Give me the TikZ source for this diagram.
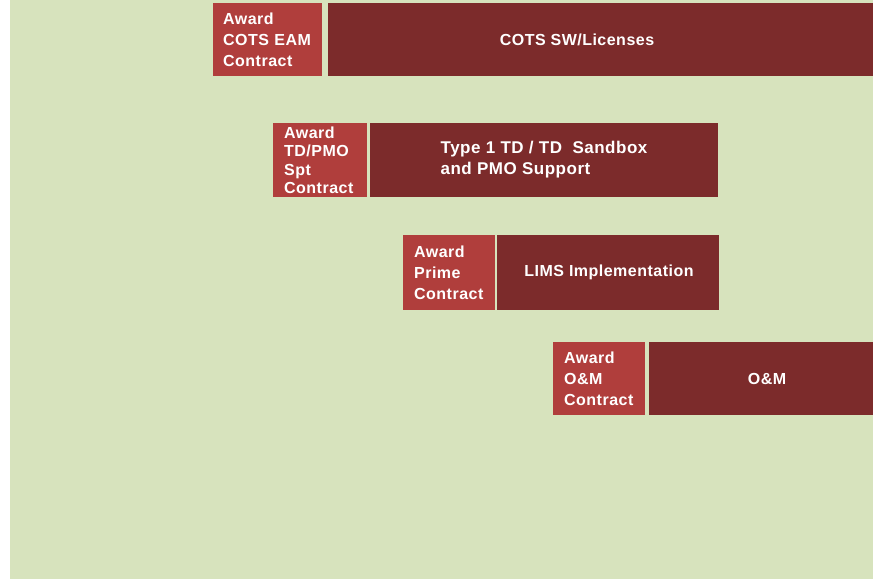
\documentclass[tikz,border=0pt]{standalone}
\usepackage{fontspec}
\setmainfont{Liberation Sans}[LetterSpace=3]
\begin{document}
\begin{tikzpicture}[x=1pt,y=1pt,
  awardbox/.style={fill=awardred, draw=none, anchor=north west, inner xsep=10pt, inner ysep=0pt,
     align=left, text=white, font=\fontsize{16}{21}\selectfont\bfseries},
  phasebox/.style={fill=phasered, draw=none, anchor=north west, inner sep=0pt},
  phaselbl/.style={text=white, align=left, inner sep=0pt, font=\fontsize{16}{21}\selectfont\bfseries}]
\definecolor{bggreen}{HTML}{D7E3BD}
\definecolor{awardred}{HTML}{B03E3C}
\definecolor{phasered}{HTML}{7C2B2B}
\useasboundingbox (0,0) rectangle (873,-579);
\fill[white] (0,0) rectangle (10,-579);
\fill[bggreen] (10,0) rectangle (873,-579);
% row 1
\node[awardbox, minimum width=109pt, minimum height=73pt, text width=89pt] (a1) at (213,-3) {Award\\COTS EAM\\Contract};
\node[phasebox, minimum width=545pt, minimum height=73pt] (p1) at (328,-3) {};
\node[phaselbl] (p1t) at (577,-40) {COTS SW/Licenses};
% row 2
\node[awardbox, minimum width=94pt, minimum height=74pt, text width=72pt, inner xsep=11pt,
      font=\fontsize{16}{18.5}\selectfont\bfseries] (a2) at (273,-123) {Award\\TD/PMO\\Spt\\Contract};
\node[phasebox, minimum width=348pt, minimum height=74pt] (p2) at (370,-123) {};
\node[phaselbl, font=\fontsize{17}{21}\selectfont\bfseries] (p2t) at (544,-160) {Type 1 TD / TD\ \ Sandbox\\and PMO Support};
% row 3
\node[awardbox, minimum width=92pt, minimum height=75pt, text width=70pt, inner xsep=11pt] (a3) at (403,-235) {Award\\Prime\\Contract};
\node[phasebox, minimum width=222pt, minimum height=75pt] (p3) at (497,-235) {};
\node[phaselbl] (p3t) at (609,-272) {LIMS Implementation};
% row 4
\node[awardbox, minimum width=92pt, minimum height=73pt, text width=70pt, inner xsep=11pt] (a4) at (553,-342) {Award\\O\&M\\Contract};
\node[phasebox, minimum width=224pt, minimum height=73pt] (p4) at (649,-342) {};
\node[phaselbl] (p4t) at (767,-379) {O\&M};
\end{tikzpicture}
\end{document}
